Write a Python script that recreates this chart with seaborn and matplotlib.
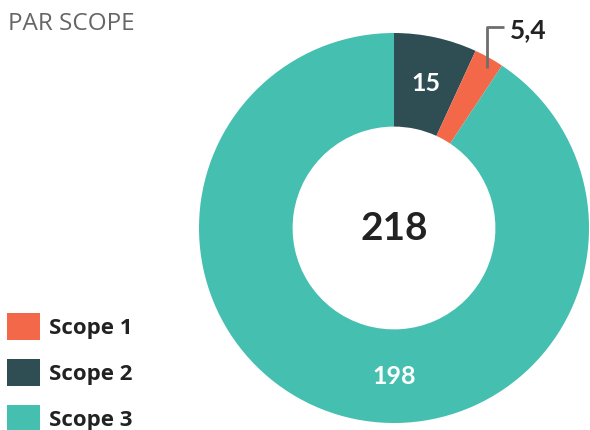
import seaborn as sns
import matplotlib.pyplot as plt
import matplotlib.patches as mpatches
import numpy as np

# data, in drawing order (clockwise from 12 o'clock)
scopes = ["Scope 2", "Scope 1", "Scope 3"]
values = [15, 5.4, 198]
labels = ["15", "5,4", "198"]
legend_order = ["Scope 1", "Scope 2", "Scope 3"]
colors = {"Scope 1": "#F26849", "Scope 2": "#2E4E54", "Scope 3": "#45BFB0"}

sns.set_theme(style="white")
plt.rcParams["font.family"] = ["Lato", "DejaVu Sans"]

fig = plt.figure(figsize=(5.9, 4.3), dpi=100)
ax = fig.add_axes([199 / 590, 7 / 430, 390 / 590, 390 / 430])

outer, width = 1.0, 0.48
wedges, _ = ax.pie(values, colors=[colors[s] for s in scopes], startangle=90,
                   counterclock=False, radius=outer,
                   wedgeprops=dict(width=width, linewidth=0))
ax.set_xlim(-1, 1)
ax.set_ylim(-1, 1)
ax.set_aspect("equal")

r_mid = outer - width / 2
total = sum(values)

# Scope 2 label at middle of its wedge
a = np.deg2rad(90 - values[0] / total * 180)
ax.text(r_mid * np.cos(a), r_mid * np.sin(a), labels[0], color="white",
        ha="center", va="center", fontsize=18, fontweight="bold")

# Scope 3 label at the bottom
ax.text(0, -r_mid, labels[2], color="white", ha="center", va="center",
        fontsize=18, fontweight="bold")

# Scope 1 label with a leader line
a1 = np.deg2rad(90 - (values[0] + values[1] * 0.6) / total * 360)
x0, y0 = 0.95 * np.cos(a1), 0.95 * np.sin(a1)
ax.plot([x0, x0, x0 + 0.09], [y0, 1.03, 1.03], color="#6E6E6E", lw=2,
        clip_on=False, solid_capstyle="butt")
ax.text(x0 + 0.12, 1.015, labels[1], color="#222222", ha="left", va="center",
        fontsize=19, fontweight="bold", clip_on=False)

# total in the hole
ax.text(0, 0, f"{sum(values):.0f}", color="#222222", ha="center", va="center",
        fontsize=28, fontweight="bold")

fig.text(8 / 590, 1 - 24 / 430, "PAR SCOPE", color="#666666", fontsize=17.5,
         ha="left", va="center", family=["Open Sans", "DejaVu Sans"])

handles = [mpatches.Patch(facecolor=colors[s], edgecolor="none") for s in legend_order]
fig.legend(handles, legend_order, loc="upper left",
           bbox_to_anchor=(7 / 590, 1 - 313 / 430), frameon=False,
           handlelength=1.5, handleheight=1.5,
           handletextpad=0.4, labelspacing=0.85, borderpad=0,
           borderaxespad=0, prop={"family": ["Open Sans", "DejaVu Sans"],
                                  "weight": "bold", "size": 16})
for t in fig.legends[0].get_texts():
    t.set_color("#222222")

fig.savefig("out.png", dpi=100)
